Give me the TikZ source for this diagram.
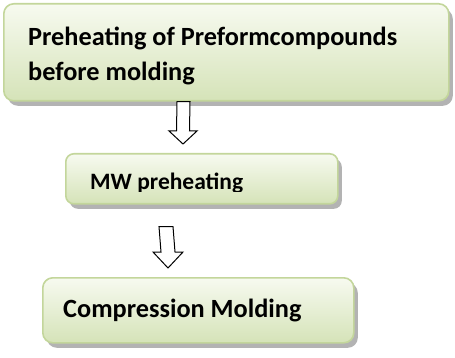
\documentclass[tikz,border=0pt]{standalone}
\usepackage{fontspec}
\setmainfont{Carlito}
\usetikzlibrary{calc,shadows}
\definecolor{boxtop}{HTML}{F7FAF0}
\definecolor{boxbot}{HTML}{D5E3B8}
\definecolor{boxline}{HTML}{C3D69B}
\definecolor{shadowgray}{HTML}{9A9A9A}
\tikzset{
  stagebox/.style={draw=boxline, line width=1.6pt, rounded corners=10pt,
    top color=boxtop, bottom color=boxbot,
    drop shadow={shadow xshift=4pt, shadow yshift=-5pt, fill=shadowgray, opacity=0.75},
    anchor=north west, inner sep=0pt},
  stagetext/.style={anchor=base west, inner sep=0pt, text=black,
    font=\bfseries\fontsize{26.3}{35}\selectfont},
  blockarrow/.style={draw=black, line width=1pt, fill=white, line join=miter}
}
\begin{document}
\begin{tikzpicture}[x=1pt,y=-1pt]
\useasboundingbox (0,0) rectangle (455,358);
% boxes
\node[stagebox, minimum width=445pt, minimum height=97pt] (b1) at (3,3) {};
\node[stagebox, minimum width=272pt, minimum height=50pt, rounded corners=8pt] (b2) at (65,153) {};
\node[stagebox, minimum width=311pt, minimum height=65pt] (b3) at (42,277) {};
% texts
\node[stagetext] (l1a) at (28,46) {Preheating of Preformcompounds};
\node[stagetext] (l1b) at (28,81) {before molding};
\begin{scope}
  \clip (0,0) rectangle (455,192);
  \node[stagetext, font=\bfseries\fontsize{23.5}{30}\selectfont] (l2) at (90,190) {MW preheating};
\end{scope}
\node[stagetext] (l3) at (63,317) {Compression Molding};
% arrows
\coordinate (t1) at ($(b1.south west)+(180.5,0)$);
\coordinate (h1) at ($(b2.north west)+(118,-9)$);
\coordinate (t2) at ($(b2.south west)+(101,22)$);
\coordinate (h2) at ($(b3.north west)+(126,-9)$);
\draw[blockarrow] ($(t1)+(-6.5,0)$) -- ($(h1)+(-6.5,-13)$) -- ($(h1)+(-14,-13)$) -- (h1)
  -- ($(h1)+(14,-13)$) -- ($(h1)+(6.5,-13)$) -- ($(t1)+(6.5,0)$) -- cycle;
\draw[blockarrow] ($(t2)+(-7,0)$) -- ($(h2)+(-7,-16)$) -- ($(h2)+(-15,-16)$) -- (h2)
  -- ($(h2)+(15,-16)$) -- ($(h2)+(7,-16)$) -- ($(t2)+(7,0)$) -- cycle;
\end{tikzpicture}
\end{document}
